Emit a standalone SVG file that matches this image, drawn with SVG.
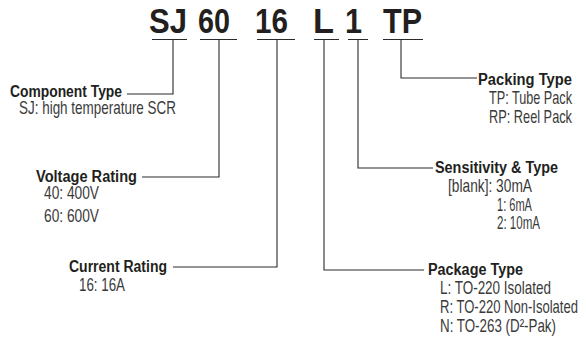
<svg xmlns="http://www.w3.org/2000/svg" width="586" height="343" viewBox="0 0 586 343">
<style>
.code{font-family:"Liberation Sans",Arial,sans-serif;font-weight:bold;font-size:35px;fill:#231f20}
.h{font-family:"Liberation Sans",Arial,sans-serif;font-weight:bold;font-size:17px;fill:#231f20}
.b{font-family:"Liberation Sans",Arial,sans-serif;font-size:17.5px;fill:#3a3a3a}
.ln{fill:none;stroke:#2a2a2a;stroke-width:1.1}
</style>
<rect width="586" height="343" fill="#ffffff"/>
<g id="code" transform="scale(0.85,1)">
<text class="code" x="175.29" y="33" textLength="44.71" lengthAdjust="spacingAndGlyphs">SJ</text>
<text class="code" x="232.94" y="33" textLength="37.65" lengthAdjust="spacingAndGlyphs">60</text>
<text class="code" x="300" y="33" textLength="38.82" lengthAdjust="spacingAndGlyphs">16</text>
<text class="code" x="368.24" y="33" textLength="24.71" lengthAdjust="spacingAndGlyphs">L</text>
<text class="code" x="405.88" y="33" textLength="20" lengthAdjust="spacingAndGlyphs">1</text>
<text class="code" x="450.59" y="33" textLength="45.88" lengthAdjust="spacingAndGlyphs">TP</text>
</g>
<g id="connectors">
<path class="ln" d="M152 39.5H187M200 39.5H237M257 39.5H295M314 39.5H339M348 39.5H368M383 39.5H423"/>
<path class="ln" d="M173 40V94H127"/>
<path class="ln" d="M219 40V177H142"/>
<path class="ln" d="M277 40V267H173"/>
<path class="ln" d="M324 40V270H424"/>
<path class="ln" d="M358 40V168H433"/>
<path class="ln" d="M401 40V78H477"/>
</g>
<g id="component-type" transform="scale(0.8,1)">
<text class="h" x="12.5" y="97" textLength="140" lengthAdjust="spacingAndGlyphs">Component Type</text>
<text class="b" x="23.75" y="114" textLength="196.25" lengthAdjust="spacingAndGlyphs">SJ: high temperature SCR</text>
</g>
<g id="voltage-rating" transform="scale(0.8,1)">
<text class="h" x="45" y="182" textLength="126.25" lengthAdjust="spacingAndGlyphs">Voltage Rating</text>
<text class="b" x="55" y="199" textLength="68.75" lengthAdjust="spacingAndGlyphs">40: 400V</text>
<text class="b" x="55" y="222" textLength="68.75" lengthAdjust="spacingAndGlyphs">60: 600V</text>
</g>
<g id="current-rating" transform="scale(0.8,1)">
<text class="h" x="86.25" y="272" textLength="122.5" lengthAdjust="spacingAndGlyphs">Current Rating</text>
<text class="b" x="98.75" y="291" textLength="57.5" lengthAdjust="spacingAndGlyphs">16: 16A</text>
</g>
<g id="packing-type" transform="scale(0.8,1)">
<text class="h" x="597.5" y="85" textLength="117.5" lengthAdjust="spacingAndGlyphs">Packing Type</text>
<text class="b" x="611.25" y="104" textLength="103.75" lengthAdjust="spacingAndGlyphs">TP: Tube Pack</text>
<text class="b" x="611.25" y="123" textLength="103.75" lengthAdjust="spacingAndGlyphs">RP: Reel Pack</text>
</g>
<g id="sensitivity-type" transform="scale(0.8,1)">
<text class="h" x="543.75" y="173" textLength="153.75" lengthAdjust="spacingAndGlyphs">Sensitivity &amp; Type</text>
<text class="b" x="560" y="192" textLength="105" lengthAdjust="spacingAndGlyphs">[blank]: 30mA</text>
<text class="b" x="621.25" y="211" textLength="43.75" lengthAdjust="spacingAndGlyphs">1: 6mA</text>
<text class="b" x="621.25" y="229" textLength="53.75" lengthAdjust="spacingAndGlyphs">2: 10mA</text>
</g>
<g id="package-type">
<g transform="scale(0.8,1)">
<text class="h" x="535" y="275" textLength="118.75" lengthAdjust="spacingAndGlyphs">Package Type</text>
<text class="b" x="550" y="294" textLength="138.75" lengthAdjust="spacingAndGlyphs">L: TO-220 Isolated</text>
<text class="b" x="550" y="332" textLength="145" lengthAdjust="spacingAndGlyphs">N: TO-263 (D²-Pak)</text>
</g>
<g transform="scale(0.72,1)">
<text class="b" x="611.11" y="313" textLength="191.67" lengthAdjust="spacingAndGlyphs">R: TO-220 Non-Isolated</text>
</g>
</g>
</svg>
